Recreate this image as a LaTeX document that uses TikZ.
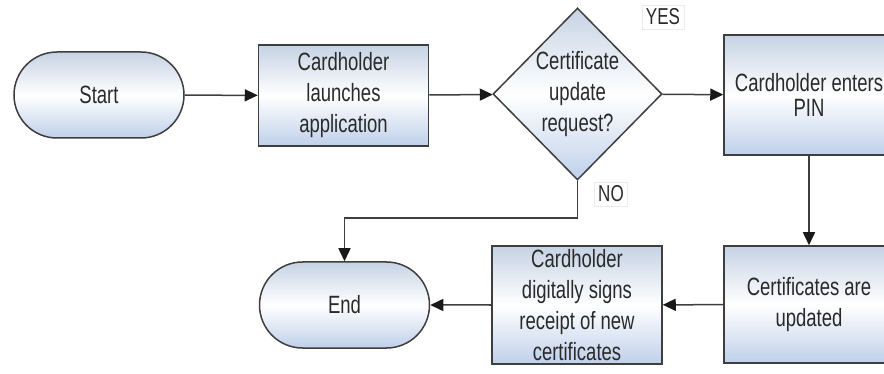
\documentclass[tikz,border=0pt]{standalone}
\usepackage{fontspec}
\setmainfont{Liberation Sans}[FakeStretch=0.74]
\usetikzlibrary{shapes.misc,shapes.geometric,arrows.meta}
\definecolor{boxtop}{HTML}{C6D3E4}
\definecolor{boxbot}{HTML}{BFD0EA}
\definecolor{edge}{HTML}{3E3E3E}
\definecolor{txt}{HTML}{2A2A2A}
\tikzset{
  x=1pt, y=-1pt,
  shade/.style={top color=boxtop, bottom color=boxbot, middle color=white},
  term/.style={shape=rounded rectangle, draw=edge, line width=1.5pt, shade,
    minimum width=170pt, minimum height=86pt, inner sep=0pt, text=txt,
    font=\fontsize{25}{31}\selectfont},
  proc/.style={shape=rectangle, draw=edge, line width=1.5pt, shade,
    minimum width=170pt, inner sep=0pt, text=txt, align=center,
    font=\fontsize{25}{31}\selectfont},
  dec/.style={shape=diamond, draw=edge, line width=1.5pt, shade,
    minimum width=169pt, minimum height=172pt, inner sep=0pt, text=txt, align=center,
    font=\fontsize{25}{31}\selectfont},
  lbl/.style={text=txt, font=\fontsize{23}{25}\selectfont, inner sep=4pt,
    draw=black!8, line width=0.6pt},
  arr/.style={draw=edge, line width=1.5pt, -{Triangle[length=13pt,width=12pt,color=black!90]}},
}
\begin{document}
\begin{tikzpicture}
\useasboundingbox (0,0) rectangle (884,374);
\node[term] (start) at (99,95) {Start};
\node[proc, minimum height=101pt] (launch) at (343.5,95.5) {Cardholder\\launches\\application};
\node[dec] (q) at (577.5,94) {Certificate\\update\\request?};
\node[proc, minimum height=120pt, font=\fontsize{25}{25}\selectfont] (pin) at (809,95) {Cardholder enters\\PIN};
\node[proc, minimum height=117pt] (upd) at (809,304.5) {Certificates are\\updated};
\node[proc, minimum height=118pt] (sign) at (577,305) {Cardholder\\digitally signs\\receipt of new\\certificates};
\node[term] (end) at (344.5,305) {End};
\node[lbl] (yes) at (663,17) {YES};
\node[lbl] (no) at (611,194) {NO};
\coordinate (nobend) at (577.5,218);
\draw[arr] (start) -- (launch);
\draw[arr] (launch) -- (q);
\draw[arr] (q) -- (pin);
\draw[arr] (pin) -- (upd);
\draw[arr] (upd) -- (sign);
\draw[arr] (sign) -- (end);
\draw[arr] (q.south) -- (nobend) -| (end.north);
\end{tikzpicture}
\end{document}
